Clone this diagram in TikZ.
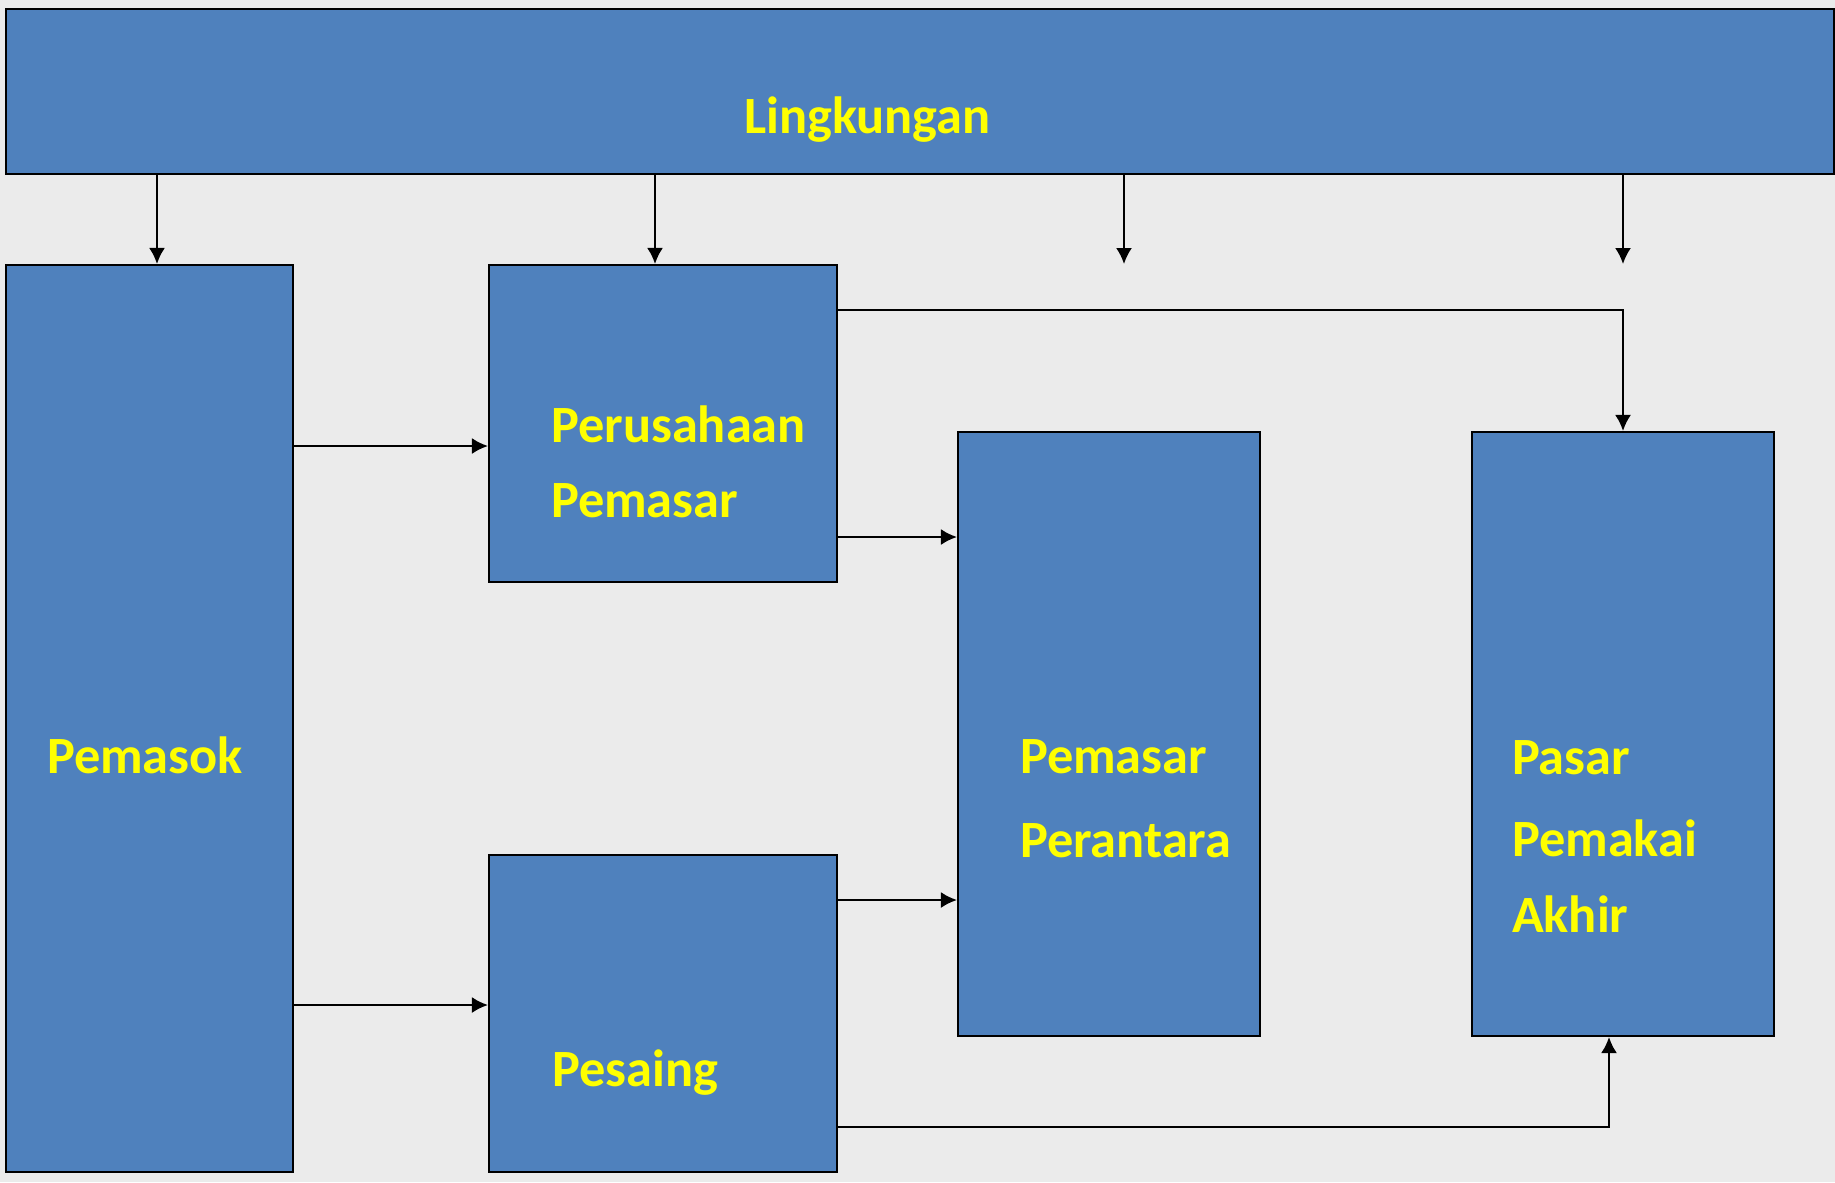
\documentclass[tikz,border=0pt]{standalone}
\usepackage{fontspec}
\setmainfont{Carlito}
\usetikzlibrary{arrows.meta}
\definecolor{boxblue}{HTML}{4F81BD}
\definecolor{textyellow}{HTML}{FFFF00}
\definecolor{paper}{HTML}{EBEBEB}
\tikzstyle{block} = [draw=black, fill=boxblue, rectangle, line width=0.6pt, inner sep=0pt]
\tikzstyle{boxtext} = [text=textyellow, font=\fontsize{14.9}{17}\selectfont\bfseries, anchor=base west, inner sep=0pt]
\tikzstyle{free end} = [coordinate]

\begin{document}
\begin{tikzpicture}[>={Latex[length=1.6mm, width=1.6mm]}, line width=0.6pt]
    \fill[paper] (0,0) rectangle (18.35,11.82);
    \useasboundingbox (0,0) rectangle (18.35,11.82);

    % boxes
    \node[block, name=lingkungan, minimum width=18.28cm, minimum height=1.65cm] at (9.20,10.905) {};
    \node[block, name=pemasok, minimum width=2.87cm, minimum height=9.07cm] at (1.495,4.635) {};
    \node[block, name=perusahaan, minimum width=3.48cm, minimum height=3.17cm] at (6.63,7.585) {};
    \node[block, name=pesaing, minimum width=3.48cm, minimum height=3.17cm] at (6.63,1.685) {};
    \node[block, name=perantara, minimum width=3.02cm, minimum height=6.04cm] at (11.09,4.48) {};
    \node[block, name=pasar, minimum width=3.02cm, minimum height=6.04cm] at (16.23,4.48) {};

    % texts
    \node[boxtext, name=lingkungan-t] at (7.43,10.49) {Lingkungan};
    \node[boxtext, name=pemasok-t] at (0.46,4.09) {Pemasok};
    \node[boxtext, name=perusahaan-t1] at (5.50,7.40) {Perusahaan};
    \node[boxtext, name=perusahaan-t2] at (5.50,6.65) {Pemasar};
    \node[boxtext, name=pesaing-t] at (5.51,0.96) {Pesaing};
    \node[boxtext, name=perantara-t1] at (10.19,4.09) {Pemasar};
    \node[boxtext, name=perantara-t2] at (10.19,3.25) {Perantara};
    \node[boxtext, name=pasar-t1] at (15.11,4.08) {Pasar};
    \node[boxtext, name=pasar-t2] at (15.11,3.26) {Pemakai};
    \node[boxtext, name=pasar-t3] at (15.11,2.50) {Akhir};

    \node[free end, name=drop1] at (11.24,9.18) {};
    \node[free end, name=drop2] at (16.23,9.18) {};

    % connectors
    \draw[->] (lingkungan.south -| 1.57,0) -- (pemasok.north -| 1.57,0);
    \draw[->] (lingkungan.south -| 6.55,0) -- (perusahaan.north -| 6.55,0);
    \draw[->] (lingkungan.south -| drop1) -- (drop1);
    \draw[->] (lingkungan.south -| drop2) -- (drop2);

    \draw[->] (pemasok.east |- 0,7.36) -- (perusahaan.west |- 0,7.36);
    \draw[->] (pemasok.east |- 0,1.77) -- (pesaing.west |- 0,1.77);
    \draw[->] (perusahaan.east |- 0,6.45) -- (perantara.west |- 0,6.45);
    \draw[->] (pesaing.east |- 0,2.82) -- (perantara.west |- 0,2.82);
    \draw[->] (perusahaan.east |- 0,8.72) -| (pasar.north);
    \draw[->] (pesaing.east |- 0,0.55) -| ([xshift=-0.14cm]pasar.south);
\end{tikzpicture}
\end{document}
